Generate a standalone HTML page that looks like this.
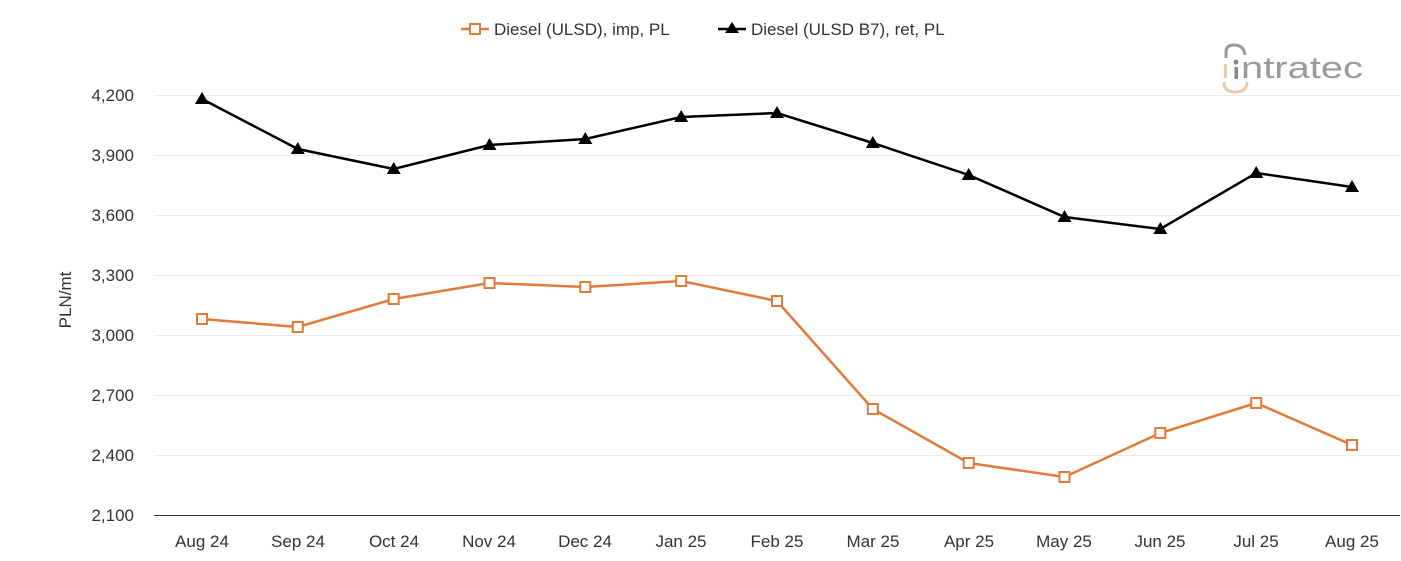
<!DOCTYPE html>
<html><head><style>body{margin:0;background:#fff}svg{display:block}text{font-family:"Liberation Sans",sans-serif}</style></head>
<body>
<svg width="1401" height="561" viewBox="0 0 1401 561">
<g stroke="#ececec" stroke-width="1">
<line x1="154" x2="1400" y1="95.5" y2="95.5"/><line x1="154" x2="1400" y1="155.5" y2="155.5"/>
<line x1="154" x2="1400" y1="215.5" y2="215.5"/><line x1="154" x2="1400" y1="275.5" y2="275.5"/>
<line x1="154" x2="1400" y1="335.5" y2="335.5"/><line x1="154" x2="1400" y1="395.5" y2="395.5"/>
<line x1="154" x2="1400" y1="455.5" y2="455.5"/>
</g>
<line x1="154" x2="1400" y1="515.5" y2="515.5" stroke="#333" stroke-width="1"/>
<g font-size="17" fill="#333" text-anchor="end">
<text x="134" y="101">4,200</text><text x="134" y="161">3,900</text><text x="134" y="221">3,600</text>
<text x="134" y="281">3,300</text><text x="134" y="341">3,000</text><text x="134" y="401">2,700</text>
<text x="134" y="461">2,400</text><text x="134" y="521">2,100</text>
</g>
<text transform="translate(71,300) rotate(-90)" font-size="17" fill="#333" text-anchor="middle">PLN/mt</text>
<g font-size="17" fill="#333" text-anchor="middle">
<text x="202" y="547">Aug 24</text><text x="298" y="547">Sep 24</text><text x="394" y="547">Oct 24</text>
<text x="489" y="547">Nov 24</text><text x="585" y="547">Dec 24</text><text x="681" y="547">Jan 25</text>
<text x="777" y="547">Feb 25</text><text x="873" y="547">Mar 25</text><text x="969" y="547">Apr 25</text>
<text x="1064" y="547">May 25</text><text x="1160" y="547">Jun 25</text><text x="1256" y="547">Jul 25</text>
<text x="1352" y="547">Aug 25</text>
</g>
<polyline fill="none" stroke="#000" stroke-width="2.5" points="202,99 297.8,149 393.7,169 489.5,145 585.3,139 681.2,117 777,113 872.8,143 968.7,175 1064.5,217 1160.3,229 1256.2,173 1352,187"/>
<g fill="#000">
<path d="M202,92l7,12h-14z"/><path d="M297.8,142l7,12h-14z"/><path d="M393.7,162l7,12h-14z"/>
<path d="M489.5,138l7,12h-14z"/><path d="M585.3,132l7,12h-14z"/><path d="M681.2,110l7,12h-14z"/>
<path d="M777,106l7,12h-14z"/><path d="M872.8,136l7,12h-14z"/><path d="M968.7,168l7,12h-14z"/>
<path d="M1064.5,210l7,12h-14z"/><path d="M1160.3,222l7,12h-14z"/><path d="M1256.2,166l7,12h-14z"/>
<path d="M1352,180l7,12h-14z"/>
</g>
<polyline fill="none" stroke="#e07b39" stroke-width="2.5" points="202,319 297.8,327 393.7,299 489.5,283 585.3,287 681.2,281 777,301 872.8,409 968.7,463 1064.5,477 1160.3,433 1256.2,403 1352,445"/>
<g fill="#fff" stroke="#e07b39" stroke-width="2">
<rect x="197" y="314" width="10" height="10"/><rect x="292.8" y="322" width="10" height="10"/>
<rect x="388.7" y="294" width="10" height="10"/><rect x="484.5" y="278" width="10" height="10"/>
<rect x="580.3" y="282" width="10" height="10"/><rect x="676.2" y="276" width="10" height="10"/>
<rect x="772" y="296" width="10" height="10"/><rect x="867.8" y="404" width="10" height="10"/>
<rect x="963.7" y="458" width="10" height="10"/><rect x="1059.5" y="472" width="10" height="10"/>
<rect x="1155.3" y="428" width="10" height="10"/><rect x="1251.2" y="398" width="10" height="10"/>
<rect x="1347" y="440" width="10" height="10"/>
</g>
<line x1="461" x2="489" y1="29" y2="29" stroke="#e07b39" stroke-width="2.5"/>
<rect x="470" y="24" width="10" height="10" fill="#fff" stroke="#e07b39" stroke-width="2"/>
<text x="494" y="35" font-size="17" fill="#333">Diesel (ULSD), imp, PL</text>
<line x1="718" x2="746" y1="29" y2="29" stroke="#000" stroke-width="2.5"/>
<path d="M732,22l7,11h-14z" fill="#000"/>
<text x="751" y="35" font-size="17" fill="#333">Diesel (ULSD B7), ret, PL</text>
<g>
<path d="M1226,58 v-6 q0,-7 8,-7 q10,0 11,10" fill="none" stroke="#999" stroke-width="3"/>
<rect x="1224" y="64" width="3" height="14" fill="#e8c9a8"/>
<circle cx="1236" cy="62" r="2.5" fill="#888"/>
<rect x="1234.5" y="67" width="3.5" height="12" fill="#888"/>
<path d="M1224,82 q0,10 11,10 q12,0 12,-10" fill="none" stroke="#e8c9a8" stroke-width="3"/>
<text x="1241" y="78" font-size="31" fill="#9a9a9a" textLength="122" lengthAdjust="spacingAndGlyphs">ntratec</text>
</g>
</svg>
</body></html>
